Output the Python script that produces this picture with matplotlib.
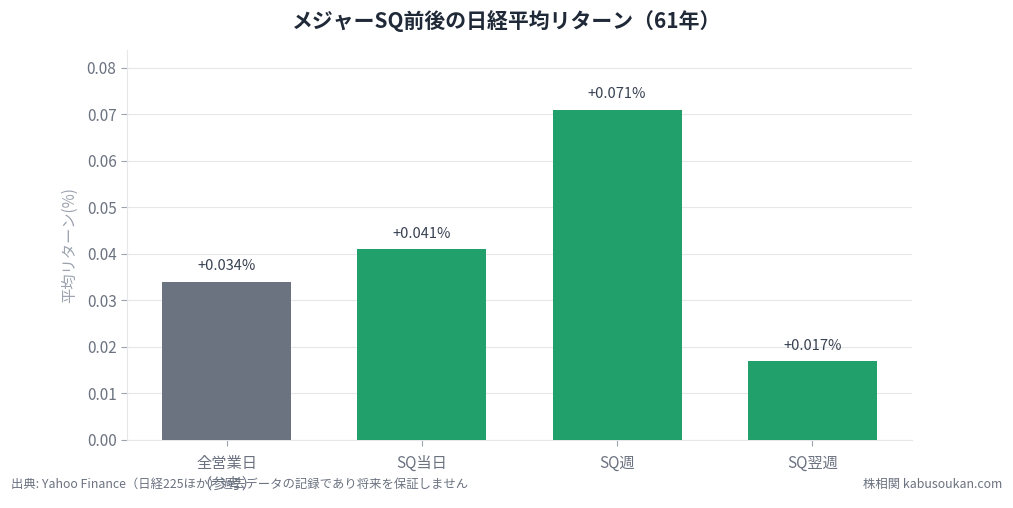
import matplotlib
matplotlib.use("Agg")
import matplotlib.pyplot as plt

plt.rcParams['font.family'] = ['Noto Sans CJK JP', 'DejaVu Sans']

categories = ["全営業日\n（参考）", "SQ当日", "SQ週", "SQ翌週"]
values = [0.034, 0.041, 0.071, 0.017]
labels = ["+0.034%", "+0.041%", "+0.071%", "+0.017%"]
colors = ["#6b7280", "#22a06b", "#22a06b", "#22a06b"]

fig = plt.figure(figsize=(10.13, 5.08), dpi=100)
ax = fig.add_axes([0.1254, 0.1339, 0.7749, 0.7677])

x = list(range(len(categories)))
ax.bar(x, values, width=0.66, color=colors, zorder=3)
for xi, v, lab in zip(x, values, labels):
    ax.annotate(lab, (xi, v), xytext=(0, 6), textcoords="offset points",
                ha="center", va="bottom", fontsize=10.5, color="#374151")

ax.set_xlim(-0.51, 3.51)
ax.set_ylim(0, 0.0838)
ax.set_yticks([0, 0.01, 0.02, 0.03, 0.04, 0.05, 0.06, 0.07, 0.08])
ax.set_yticklabels([f"{t:.2f}" for t in ax.get_yticks()])
ax.set_xticks(x)
ax.set_xticklabels(categories, linespacing=1.25)
ax.grid(axis="y", color="#e5e7eb", linewidth=0.8, zorder=0)
ax.set_axisbelow(True)
for s in ["top", "right"]:
    ax.spines[s].set_visible(False)
ax.spines["left"].set_color("#e5e7eb")
ax.spines["bottom"].set_color("#e5e7eb")
ax.tick_params(axis="both", colors="#9ca3af", labelsize=11, labelcolor="#6b7280", length=4)
ax.tick_params(axis="x", pad=7)
ax.set_ylabel("平均リターン(%)", color="#9ca3af", fontsize=11, labelpad=6)

fig.suptitle("メジャーSQ前後の日経平均リターン（61年）", x=0.5, y=0.98, fontsize=15,
             fontweight="bold", color="#1f2937")
fig.text(0.011, 0.047, "出典: Yahoo Finance（日経225ほか）過去データの記録であり将来を保証しません",
         fontsize=8.9, color="#6b7280", ha="left", va="center")
fig.text(0.989, 0.047, "株相関 kabusoukan.com", fontsize=8.9, color="#6b7280",
         ha="right", va="center")

fig.savefig("out.png", dpi=100)
